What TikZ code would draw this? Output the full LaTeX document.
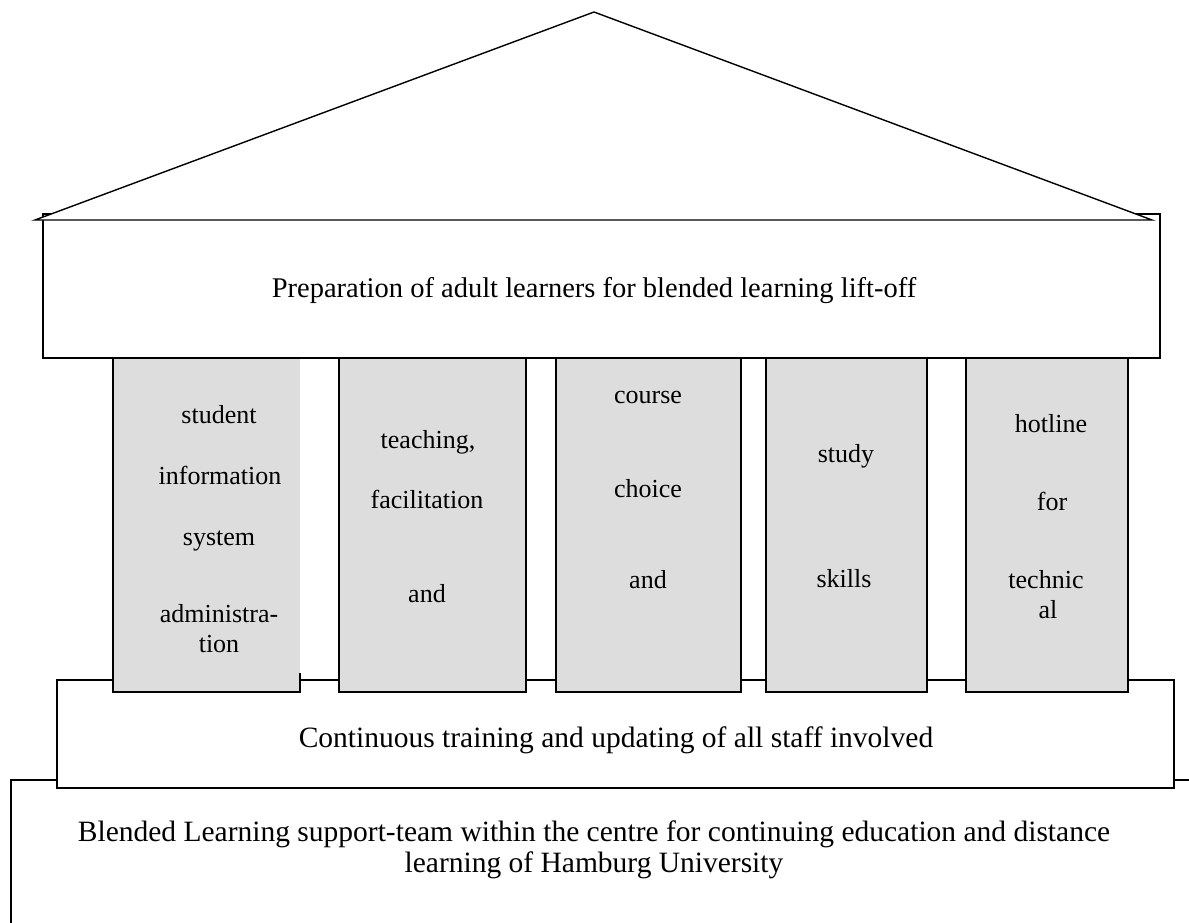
\documentclass[tikz,border=0pt]{standalone}
\usepackage{fontspec}
\setmainfont{Liberation Serif}
\begin{document}
\begin{tikzpicture}[x=1pt,y=-1pt,
  edge/.style={line width=1.4pt,line join=miter},
  pillar/.style={edge,fill=pillargray},
  big/.style={font=\fontsize{29.5}{34}\selectfont,inner sep=0pt,anchor=base},
  small/.style={font=\fontsize{26}{30}\selectfont,inner sep=0pt,anchor=base}]
\definecolor{pillargray}{HTML}{DDDDDD}
\useasboundingbox (0,0) rectangle (1189,922);
% foundation
\draw[edge] (1200,780) -- (11,780) -- (11,930);
% middle step
\draw[edge,fill=white] (57,680) rectangle (1174,788);
% architrave
\draw[edge,fill=white] (43,214) rectangle (1160,358);
% roof
\draw[edge,fill=white] (35,220) -- (594,12) -- (1152,220) -- cycle;
% pillars
\fill[pillargray] (113,358) rectangle (300,692);
\draw[edge] (300,673) -- (300,692) -- (113,692) -- (113,358) -- (300,358);
\draw[pillar] (339,358) rectangle (526,692);
\draw[pillar] (556,358) rectangle (741,692);
\draw[pillar] (766,358) rectangle (927,692);
\draw[pillar] (966,358) rectangle (1128,692);
% texts
\node[big,font=\fontsize{28.5}{33}\selectfont] (prep) at (594,297) {Preparation of adult learners for blended learning lift-off};
\node[big] (cont) at (616,747) {Continuous training and updating of all staff involved};
\node[big] (blend1) at (594,841) {Blended Learning support-team within the centre for continuing education and distance};
\node[big] (blend2) at (594,872) {learning of Hamburg University};
% pillar 1
\node[small] (a1) at (219,423) {student};
\node[small] (a2) at (220,484) {information};
\node[small] (a3) at (219,545) {system};
\node[small] (a4) at (219,622) {administra-};
\node[small] (a5) at (219,652) {tion};
% pillar 2
\node[small] (b1) at (428,448) {teaching,};
\node[small] (b2) at (427,508) {facilitation};
\node[small] (b3) at (427,602) {and};
% pillar 3
\node[small] (c1) at (648,403) {course};
\node[small] (c2) at (648,497) {choice};
\node[small] (c3) at (648,588) {and};
% pillar 4
\node[small] (d1) at (846,462) {study};
\node[small] (d2) at (844,587) {skills};
% pillar 5
\node[small] (e1) at (1051,432) {hotline};
\node[small] (e2) at (1052,510) {for};
\node[small] (e3) at (1046,588) {technic};
\node[small] (e4) at (1048,618) {al};
\end{tikzpicture}
\end{document}
